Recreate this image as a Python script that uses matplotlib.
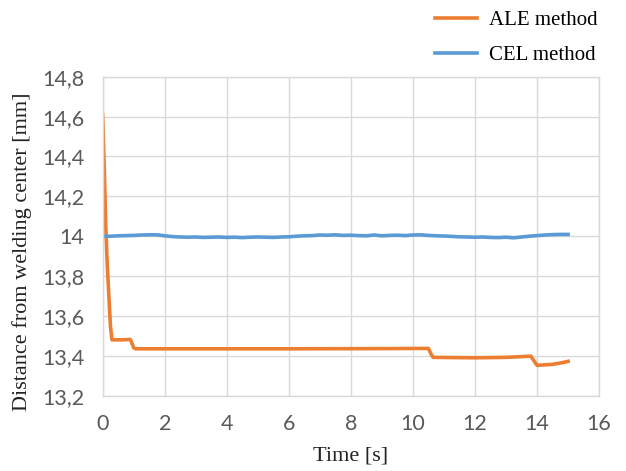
import numpy as np
import matplotlib.pyplot as plt
from matplotlib.ticker import FuncFormatter, MultipleLocator

# ALE method: stepwise drop in distance
ale_t = [0, 0.05, 0.1, 0.15, 0.2, 0.25, 0.3, 0.6, 0.89, 0.95, 1.0, 1.06,
         3.0, 6.0, 9.0, 10.5, 10.58, 10.65, 12.0, 13.0, 13.8, 13.9, 14.0,
         14.3, 14.5, 14.8, 15.0]
ale_d = [14.61, 14.35, 14.05, 13.85, 13.7, 13.55, 13.48, 13.48, 13.482, 13.46, 13.44, 13.435,
         13.435, 13.435, 13.436, 13.437, 13.41, 13.392, 13.39, 13.392, 13.398, 13.375, 13.352,
         13.355, 13.357, 13.365, 13.372]

# CEL method: nearly constant around 14 mm
cel_t = [i * 0.25 for i in range(61)]
cel_d = [14.0, 14.0, 14.002, 14.003, 14.004, 14.006, 14.007, 14.007, 14.002,
         13.998, 13.996, 13.995, 13.996, 13.994, 13.995, 13.996, 13.994,
         13.995, 13.993, 13.995, 13.996, 13.995, 13.994, 13.996, 13.997,
         14.0, 14.002, 14.003, 14.006, 14.005, 14.007, 14.004, 14.005,
         14.003, 14.002, 14.006, 14.002, 14.004, 14.005, 14.003, 14.006,
         14.007, 14.004, 14.002, 14.001, 13.999, 13.997, 13.996, 13.995,
         13.996, 13.994, 13.993, 13.995, 13.992, 13.996, 14.0, 14.003,
         14.006, 14.008, 14.009, 14.009]

x_ticks = [0, 2, 4, 6, 8, 10, 12, 14, 16]

fig = plt.figure(figsize=(6.26, 4.71), dpi=100)
ax = fig.add_axes([0.164, 0.16, 0.793, 0.677])

ax.plot(ale_t, ale_d, color='#ED7D31', lw=2.6, label='ALE method', solid_joinstyle='round')
ax.plot(cel_t, cel_d, color='#5B9BD5', lw=2.6, label='CEL method')

ax.set_xlim(0, 16)
ax.set_ylim(13.2, 14.8)
ax.set_xticks(x_ticks)
ax.yaxis.set_major_locator(MultipleLocator(0.2))

def comma_fmt(v, pos):
    return ('%g' % round(v, 1)).replace('.', ',')

ax.yaxis.set_major_formatter(FuncFormatter(comma_fmt))
ax.grid(True, color='#D9D9D9', lw=1)
ax.set_axisbelow(True)
for s in ax.spines.values():
    s.set_color('#D9D9D9')
    s.set_linewidth(1)

ax.tick_params(length=0, pad=13, labelsize=15.5, labelcolor='#595959')
for lab in ax.get_xticklabels() + ax.get_yticklabels():
    lab.set_fontfamily('Lato')

ax.set_xlabel('Time [s]', family='Liberation Serif', fontsize=16, color='#222222', labelpad=9)
ax.set_ylabel('Distance from welding center [mm]', family='Liberation Serif', fontsize=16,
              color='#222222')
ax.yaxis.set_label_coords(-0.143, 0.45)

fig.legend(loc='upper right', bbox_to_anchor=(0.985, 1.018), frameon=False,
           prop={'family': 'Liberation Serif', 'size': 15}, handlelength=2.0,
           labelspacing=0.75, handletextpad=0.6)

fig.savefig('out.png', dpi=100)
